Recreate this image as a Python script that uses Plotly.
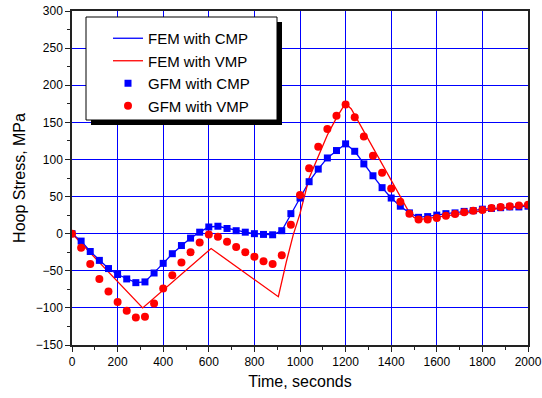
import plotly.graph_objects as go

# ---------------- data ----------------
GFM_TIME = [0, 40, 80, 120, 160, 200, 240, 280, 320, 360, 400, 440, 480, 520, 560,
            600, 640, 680, 720, 760, 800, 840, 880, 920, 960, 1000, 1040, 1080, 1120,
            1160, 1200, 1240, 1280, 1320, 1360, 1400, 1440, 1480, 1520, 1560, 1600,
            1640, 1680, 1720, 1760, 1800, 1840, 1880, 1920, 1960, 2000]

GFM_CMP = [0, -10, -24, -36, -47, -55, -61, -66, -65, -53, -40, -27, -16, -6, 2,
           9, 10, 7, 4, 2, 0, -1, -1.5, 4, 27, 48, 70, 87, 102,
           112, 121, 111, 94, 78, 62, 48, 37, 28, 22, 23, 25,
           27, 28, 30, 31, 33, 34, 35, 36, 36, 37]

GFM_VMP = [0, -19, -41, -61, -78, -92, -104, -113, -112, -94, -74, -56, -39, -25, -12,
           -1, -4, -11, -18, -25, -31, -37, -41, -29, 12, 52, 88, 117, 141,
           159, 174, 157, 131, 105, 82, 61, 43, 27, 19, 19, 21,
           24, 26.5, 29, 31, 32, 34.5, 36, 37, 38, 39]

FEM_CMP_TIME = list(GFM_TIME)
FEM_CMP = list(GFM_CMP)

FEM_VMP_TIME = [0, 310, 610, 905, 940, 970, 1000, 1040, 1080, 1120, 1160, 1190,
                1205, 1225, 1480, 1500, 1520, 1800, 2000]
FEM_VMP = [0, -100, -20, -85, -38, -2, 27, 75, 104, 133, 156, 171,
           174, 168, 28, 22, 19, 31, 39]

X_TICKS = [0, 200, 400, 600, 800, 1000, 1200, 1400, 1600, 1800, 2000]
Y_TICKS = [-150, -100, -50, 0, 50, 100, 150, 200, 250, 300]

BLUE = "#0000ff"
RED = "#ff0000"
FONT = "Liberation Sans, Arial, sans-serif"

fig = go.Figure()
fig.add_trace(go.Scatter(x=FEM_CMP_TIME, y=FEM_CMP, mode="lines", name="FEM with CMP",
                         line=dict(color=BLUE, width=1.3)))
fig.add_trace(go.Scatter(x=FEM_VMP_TIME, y=FEM_VMP, mode="lines", name="FEM with VMP",
                         line=dict(color=RED, width=1.3)))
fig.add_trace(go.Scatter(x=GFM_TIME, y=GFM_CMP, mode="markers", name="GFM with CMP",
                         marker=dict(color=BLUE, symbol="square", size=7)))
fig.add_trace(go.Scatter(x=GFM_TIME, y=GFM_VMP, mode="markers", name="GFM with VMP",
                         marker=dict(color=RED, symbol="circle", size=8)))

# plot area at x 72..528, y 11..345 of a 542x398 figure
W, H = 542, 398
PL, PR, PT, PB = 72, 528, 11, 345
L, T, R, B = PL, PT, W - PR, H - PB


def px(xp):
    return (xp - PL) / (PR - PL)


def py(yp):
    return (PB - yp) / (PB - PT)


# legend box with drop shadow
fig.add_shape(type="rect", xref="paper", yref="paper", layer="above",
              x0=px(91), x1=px(282), y0=py(125), y1=py(22),
              fillcolor="black", line=dict(width=0))
fig.add_shape(type="rect", xref="paper", yref="paper", layer="above",
              x0=px(86), x1=px(277), y0=py(120), y1=py(17),
              fillcolor="white", line=dict(color="black", width=1))

axis_common = dict(
    showline=True, linecolor="#222222", linewidth=1.5, mirror=True,
    ticks="outside", ticklen=5, tickwidth=1, tickcolor="#222222",
    showgrid=True, gridcolor=BLUE, gridwidth=1, zeroline=False,
    tickfont=dict(family=FONT, size=12, color="black"),
    automargin=False,
)

fig.update_xaxes(range=[0, 2000], tickvals=X_TICKS,
                 title=dict(text="Time, seconds", font=dict(family=FONT, size=16, color="black"),
                            standoff=8),
                 minor=dict(dtick=100, ticks="outside", ticklen=3, tickcolor="#222222", showgrid=False),
                 **axis_common)
fig.update_yaxes(range=[-150, 300], tickvals=Y_TICKS,
                 title=dict(text="Hoop Stress, MPa", font=dict(family=FONT, size=16, color="black"),
                            standoff=6),
                 minor=dict(dtick=25, ticks="outside", ticklen=3, tickcolor="#222222", showgrid=False),
                 **axis_common)

fig.update_layout(
    width=W, height=H,
    margin=dict(l=L, r=R, t=T, b=B),
    paper_bgcolor="white", plot_bgcolor="white",
    font=dict(family=FONT, color="black"),
    legend=dict(x=px(108), y=py(22), xanchor="left", yanchor="top",
                bgcolor="rgba(0,0,0,0)", borderwidth=0,
                font=dict(family=FONT, size=15, color="black"),
                itemwidth=30, tracegroupgap=0),
    showlegend=True,
)

# remove the browser's default 8px body margin so the figure fills the window
fig.write_html("out.html", config={"displayModeBar": False},
               post_script="document.body.style.margin='0px';")
